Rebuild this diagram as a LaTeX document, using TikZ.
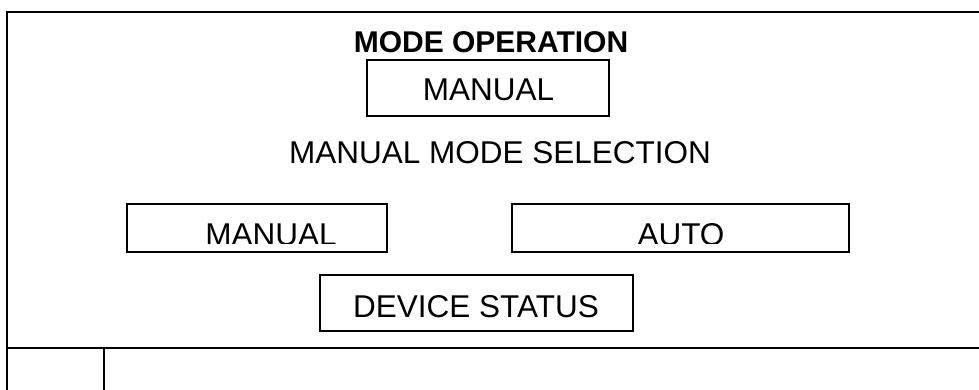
\documentclass[tikz,border=0pt]{standalone}
\usepackage{fontspec}
\setmainfont{Liberation Sans}
\begin{document}
\begin{tikzpicture}[x=1pt,y=-1pt,
  frame/.style={line width=2pt,black},
  box/.style={draw,line width=1.5pt,rectangle,inner sep=0pt},
  lbl/.style={anchor=base,inner sep=0pt,font=\fontsize{31.5}{36}\selectfont},
  ttl/.style={anchor=base,inner sep=0pt,font=\fontsize{30}{36}\selectfont\bfseries}]
\useasboundingbox (0,0) rectangle (979,390);
\clip (0,0) rectangle (979,390);
% outer frame
\coordinate (tl) at (7,12);
\coordinate (br) at (990,400);
\draw[frame] (tl) rectangle (br);
\coordinate (hl) at (7,348);
\coordinate (hr) at (990,348);
\draw[frame] (hl) -- (hr);
\coordinate (vt) at (104,348);
\coordinate (vb) at (104,400);
\draw[line width=1.5pt] (vt) -- (vb);
% title
\node[ttl] (title) at (491,53) {MODE OPERATION};
% top manual box
\node[box,minimum width=242pt,minimum height=56pt] (mbox) at (488,88) {};
\node[lbl] (mtxt) at (488.5,101) {MANUAL};
% selection text
\node[lbl] (sel) at (500,164) {MANUAL MODE SELECTION};
% left/right boxes
\node[box,minimum width=260pt,minimum height=48pt] (lbox) at (257,228) {};
\node[box,minimum width=337pt,minimum height=48pt] (rbox) at (680.5,228) {};
\begin{scope}
\clip (0,0) rectangle (979,243);
\node[lbl] (ltxt) at (271,245) {MANUAL};
\node[lbl] (rtxt) at (681,245) {AUTO};
\end{scope}
% device status
\node[box,minimum width=313pt,minimum height=56pt] (dbox) at (476.5,303) {};
\node[lbl] (dtxt) at (476,317) {DEVICE STATUS};
\end{tikzpicture}
\end{document}
